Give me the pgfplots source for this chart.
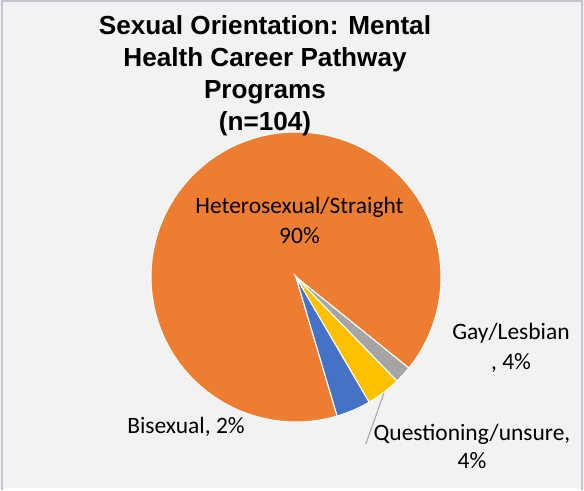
\documentclass[border=0pt]{standalone}
\usepackage{fontspec}
\setmainfont{Carlito}
\newfontfamily\titlefont{Liberation Sans}
\usepackage{pgfplots}
\usepackage{pgfplotstable}
\pgfplotsset{compat=1.18}

\definecolor{hetcol}{HTML}{ED7D31}
\definecolor{bicol}{HTML}{4472C4}
\definecolor{quescol}{HTML}{FFC000}
\definecolor{gaycol}{HTML}{A5A5A5}
\definecolor{bgcol}{HTML}{F2F2F2}
\definecolor{framecol}{HTML}{C3C6CE}

% counts (n=104)
\pgfplotstableread{
label count
Heterosexual 94
Bisexual 4
Questioning 4
Gay 2
}\piedata

% slice angles, counter-clockwise from the gray/orange boundary
\def\startang{-38.9}
\pgfplotstablegetelem{0}{count}\of\piedata
\pgfmathsetmacro\aA{\startang}
\pgfmathsetmacro\bA{\aA+\pgfplotsretval/104*360}
\pgfplotstablegetelem{1}{count}\of\piedata
\pgfmathsetmacro\bB{\bA+\pgfplotsretval/104*360}
\pgfplotstablegetelem{2}{count}\of\piedata
\pgfmathsetmacro\bC{\bB+\pgfplotsretval/104*360}
\pgfplotstablegetelem{3}{count}\of\piedata
\pgfmathsetmacro\bD{\bC+\pgfplotsretval/104*360}

\def\R{108.75pt}

\begin{document}
\begin{tikzpicture}
\begin{axis}[
  x=0.75pt, y=0.75pt,
  xmin=0, xmax=584, ymin=0, ymax=488,
  hide axis, clip=false,
]
\fill[bgcol] (axis cs:0,0) rectangle (axis cs:584,488);
\draw[framecol, line width=1.5pt] (axis cs:2,-2) -- (axis cs:2,487) -- (axis cs:582,487) -- (axis cs:582,-2);

\fill[hetcol, draw=white, line width=0.8pt] (axis cs:296,211) -- ++(\aA:\R) arc[start angle=\aA, end angle=\bA, radius=\R] -- cycle;
\fill[bicol, draw=white, line width=0.8pt] (axis cs:296,211) -- ++(\bA:\R) arc[start angle=\bA, end angle=\bB, radius=\R] -- cycle;
\fill[quescol, draw=white, line width=0.8pt] (axis cs:296,211) -- ++(\bB:\R) arc[start angle=\bB, end angle=\bC, radius=\R] -- cycle;
\fill[gaycol, draw=white, line width=0.8pt] (axis cs:296,211) -- ++(\bC:\R) arc[start angle=\bC, end angle=\bD, radius=\R] -- cycle;

\node[align=center, font=\titlefont\bfseries\fontsize{19.6}{24}\selectfont, inner sep=0pt, anchor=north]
  at (axis cs:265,473) {Sexual Orientation: Mental\\Health Career Pathway\\Programs\\(n=104)};

\node[align=center, font=\fontsize{17.6}{22.5}\selectfont, inner sep=0pt]
  at (axis cs:299.5,268) {Heterosexual/Straight\\90\%};
\node[align=center, font=\fontsize{17.6}{22.5}\selectfont, inner sep=0pt]
  at (axis cs:511,140) {Gay/Lesbian\\, 4\%};
\node[align=center, font=\fontsize{17.6}{21}\selectfont, inner sep=0pt]
  at (axis cs:472,42) {Questioning/unsure,\\4\%};
\node[font=\fontsize{17.6}{21}\selectfont, inner sep=0pt]
  at (axis cs:186,61) {Bisexual, 2\%};
\draw[gray!70, line width=0.8pt] (axis cs:384,95) -- (axis cs:365.7,43.7);
\end{axis}
\end{tikzpicture}
\end{document}
